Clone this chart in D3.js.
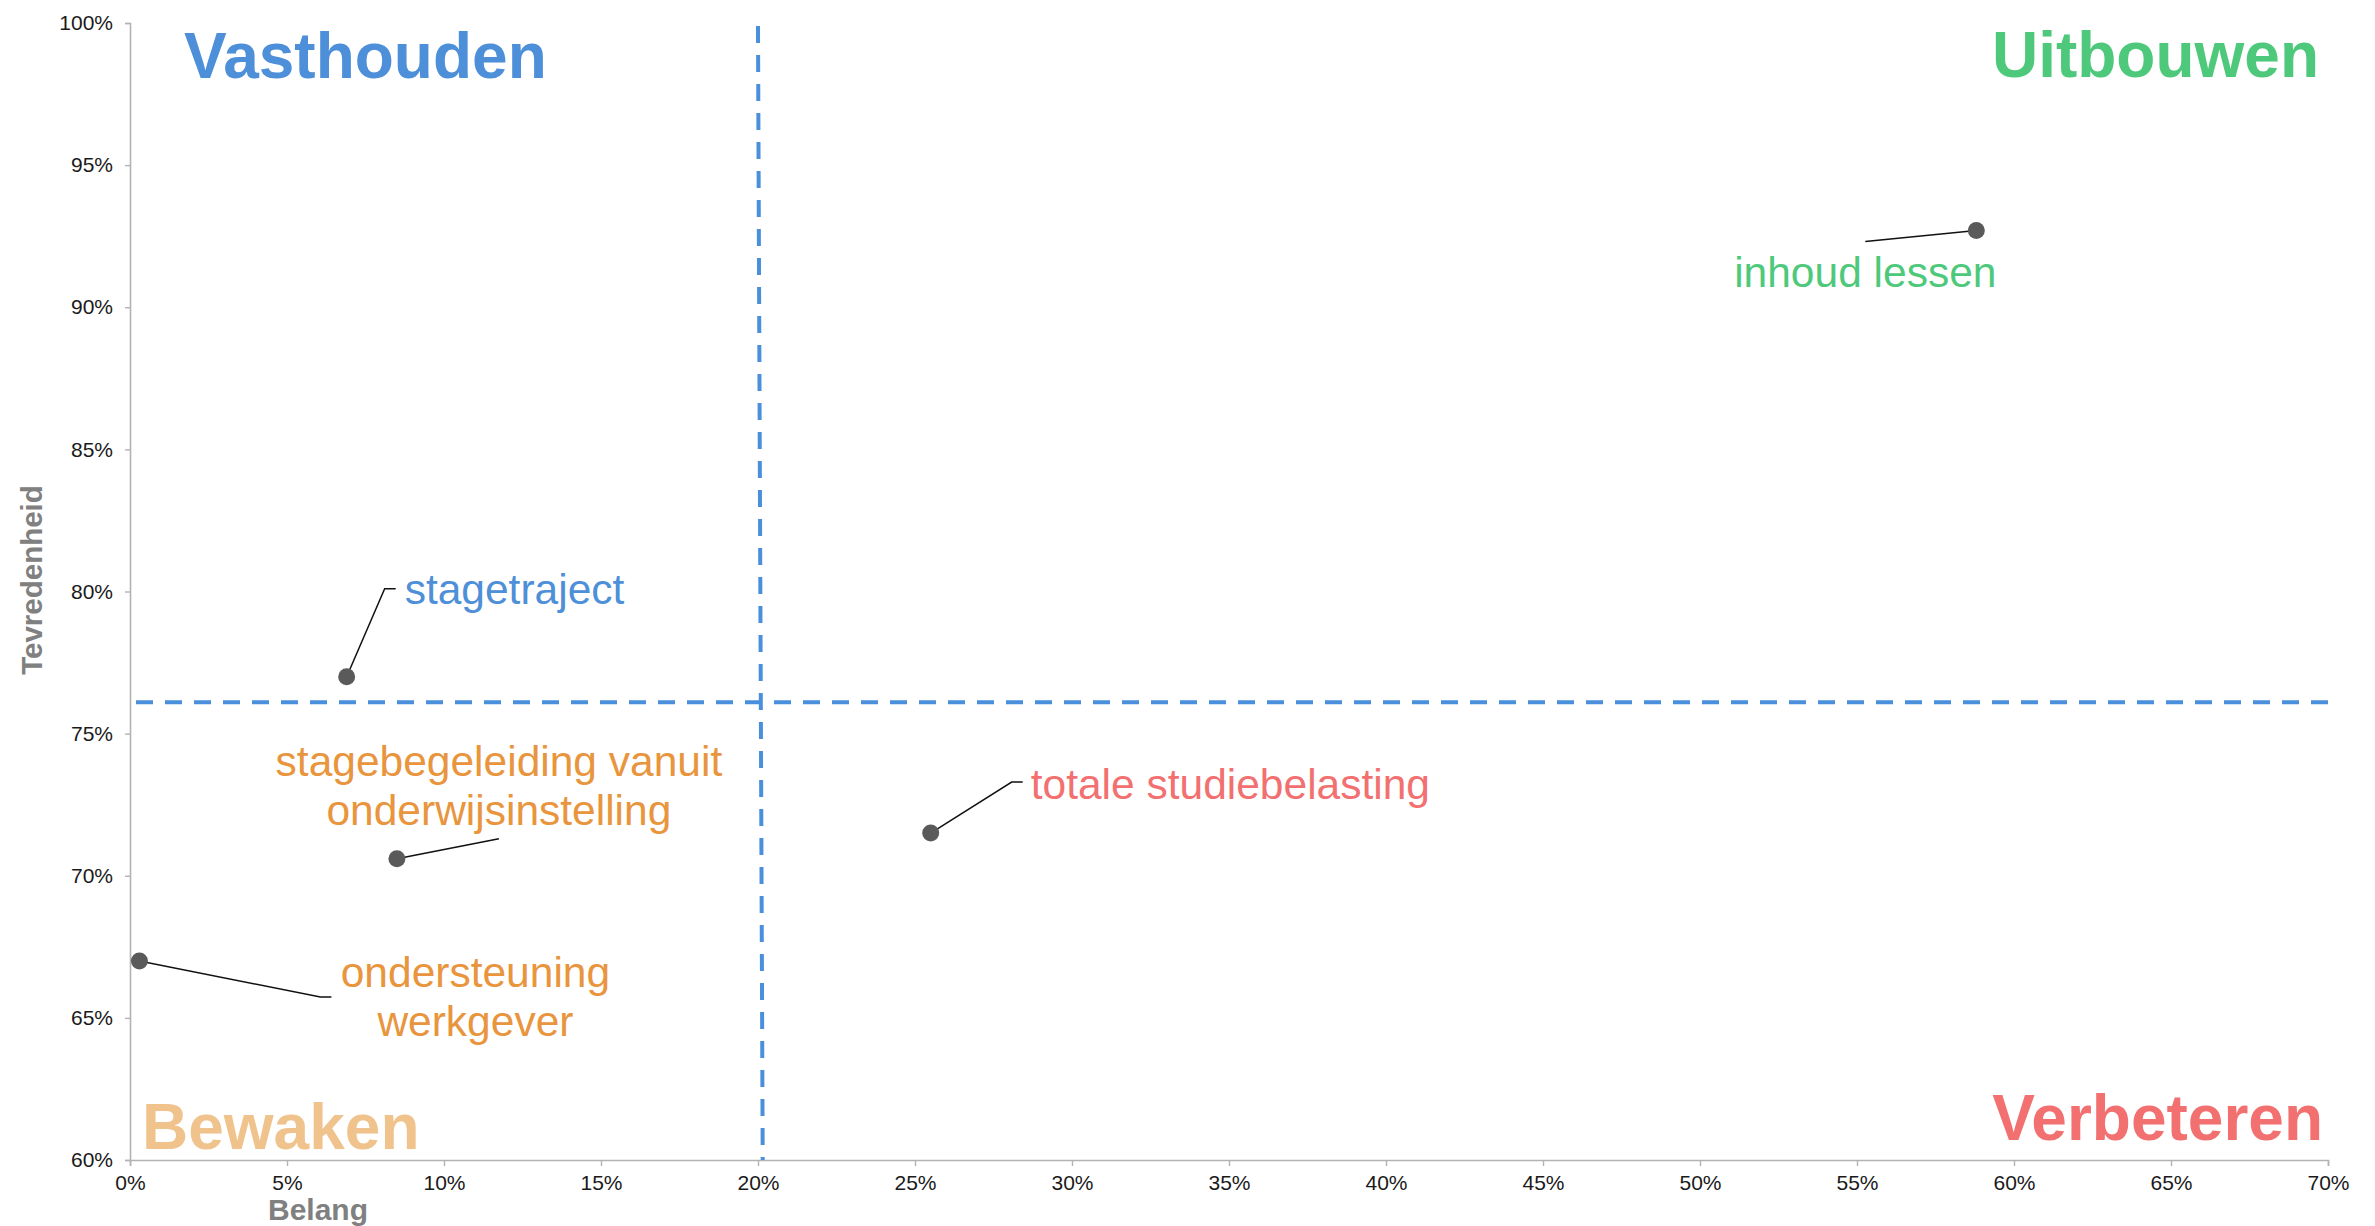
<!DOCTYPE html>
<html>
<head>
<meta charset="utf-8">
<script src="https://cdn.jsdelivr.net/npm/d3@7"></script>
<style>
  html, body { margin: 0; padding: 0; background: #ffffff; }
  svg { display: block; }
  text { font-family: "Liberation Sans", Arial, Helvetica, sans-serif; }
</style>
</head>
<body>
<svg id="chart" width="2375" height="1226"></svg>
<script>
// Aspects of the programme: importance (Belang) vs satisfaction (Tevredenheid), in %
const items = ["inhoud lessen", "stagetraject", "stagebegeleiding vanuit onderwijsinstelling", "ondersteuning werkgever", "totale studiebelasting"];
const itemLines = [["inhoud lessen"], ["stagetraject"], ["stagebegeleiding vanuit", "onderwijsinstelling"], ["ondersteuning", "werkgever"], ["totale studiebelasting"]];
const belang = [58.8, 6.9, 8.5, 0.3, 25.5];
const tevredenheid = [92.7, 77.0, 70.6, 67.0, 71.5];
const itemQuadrant = ["Uitbouwen", "Vasthouden", "Bewaken", "Bewaken", "Verbeteren"];

// Quadrant boundaries (average importance / satisfaction)
const splitBelang = [20.0, 20.15];   // top, bottom
const splitTevredenheid = 76.1;

const xTicks = d3.range(0, 71, 5);
const yTicks = d3.range(60, 101, 5);

const quadrants = ["Vasthouden", "Uitbouwen", "Bewaken", "Verbeteren"];

// ---- styles / layout ----
const titleColor = { Vasthouden: "#4d8fd8", Uitbouwen: "#4ec97b", Bewaken: "#f0c28c", Verbeteren: "#f27070" };
const labelColor = { Vasthouden: "#4d8fd8", Uitbouwen: "#4ec97b", Bewaken: "#e8953d", Verbeteren: "#f27070" };

// pixel offsets of each label and its leader line relative to its point
const labelLayout = [
  { dx: -111, dy: 56, anchor: "middle", leader: [[-111, 11]] },
  { dx: 58, dy: -73, anchor: "start", leader: [[38, -88], [49, -88]] },
  { dx: 102, dy: -83, anchor: "middle", leader: [[102, -20]] },
  { dx: 336, dy: 26, anchor: "middle", leader: [[181, 36], [192, 36]] },
  { dx: 100, dy: -34, anchor: "start", leader: [[81, -51], [92, -51]] }
];

const plot = { left: 130, right: 2328, top: 23, bottom: 1160 };

const svg = d3.select("#chart");

const x = d3.scaleLinear().domain([0, 70]).range([plot.left, plot.right]);
const y = d3.scaleLinear().domain([60, 100]).range([plot.bottom, plot.top]);

const pct = d => d + "%";

// axes
const gx = svg.append("g")
  .attr("transform", `translate(0,${plot.bottom})`)
  .call(d3.axisBottom(x).tickValues(xTicks).tickFormat(pct).tickSizeInner(6).tickSizeOuter(6).tickPadding(9));
const gy = svg.append("g")
  .attr("transform", `translate(${plot.left},0)`)
  .call(d3.axisLeft(y).tickValues(yTicks).tickFormat(pct).tickSizeInner(5).tickSizeOuter(5).tickPadding(12));

[gx, gy].forEach(g => {
  g.select(".domain").attr("stroke", "#b3b3b3").attr("stroke-width", 1.6);
  g.selectAll(".tick line").attr("stroke", "#b3b3b3").attr("stroke-width", 1.4);
  g.selectAll(".tick text")
    .attr("fill", "#1a1a1a")
    .style("font-size", "21px")
    .style("font-family", "'Liberation Sans', Arial, sans-serif");
});

// axis titles
svg.append("text")
  .attr("x", 318).attr("y", 1220)
  .attr("text-anchor", "middle")
  .attr("fill", "#808080")
  .style("font-size", "30px").style("font-weight", "bold")
  .text("Belang");

svg.append("text")
  .attr("transform", `translate(42,580) rotate(-90)`)
  .attr("text-anchor", "middle")
  .attr("fill", "#808080")
  .style("font-size", "29.5px").style("font-weight", "bold")
  .text("Tevredenheid");

// quadrant dividers
const dashStyle = sel => sel.attr("stroke", "#4a8fdb").attr("stroke-width", 4).attr("stroke-dasharray", "17 12").attr("fill", "none");

svg.append("line")
  .attr("x1", x(splitBelang[0])).attr("y1", y(100) + 3)
  .attr("x2", x(splitBelang[1])).attr("y2", y(60))
  .call(dashStyle);

svg.append("line")
  .attr("x1", x(0) + 6).attr("y1", y(splitTevredenheid))
  .attr("x2", x(70)).attr("y2", y(splitTevredenheid))
  .call(dashStyle);

// quadrant titles
const quadrantPos = {
  Vasthouden: { x: 184, y: 78, anchor: "start" },
  Uitbouwen: { x: 2319, y: 77, anchor: "end" },
  Bewaken: { x: 142, y: 1149, anchor: "start" },
  Verbeteren: { x: 2323, y: 1140, anchor: "end" }
};
svg.append("g").selectAll("text")
  .data(quadrants)
  .join("text")
  .attr("x", d => quadrantPos[d].x)
  .attr("y", d => quadrantPos[d].y)
  .attr("text-anchor", d => quadrantPos[d].anchor)
  .attr("fill", d => titleColor[d])
  .style("font-size", "64px").style("font-weight", "bold")
  .text(d => d);

// points, leader lines and labels
const pts = items.map((name, i) => ({
  name, lines: itemLines[i], q: itemQuadrant[i],
  px: x(belang[i]), py: y(tevredenheid[i]), lay: labelLayout[i]
}));

const line = d3.line();
svg.append("g").selectAll("path")
  .data(pts)
  .join("path")
  .attr("d", d => line([[d.px, d.py], ...d.lay.leader.map(([a, b]) => [d.px + a, d.py + b])]))
  .attr("fill", "none")
  .attr("stroke", "#111111")
  .attr("stroke-width", 1.5);

svg.append("g").selectAll("circle")
  .data(pts)
  .join("circle")
  .attr("cx", d => d.px)
  .attr("cy", d => d.py)
  .attr("r", 8.5)
  .attr("fill", "#5a5a5a");

const lbl = svg.append("g").selectAll("text")
  .data(pts)
  .join("text")
  .attr("x", d => d.px + d.lay.dx)
  .attr("y", d => d.py + d.lay.dy)
  .attr("text-anchor", d => d.lay.anchor)
  .attr("fill", d => labelColor[d.q])
  .style("font-size", "42.5px");

lbl.selectAll("tspan")
  .data(d => d.lines.map((t, k) => ({ t, k, x: d.px + d.lay.dx })))
  .join("tspan")
  .attr("x", d => d.x)
  .attr("dy", d => d.k === 0 ? 0 : 49)
  .text(d => d.t);
</script>
</body>
</html>
